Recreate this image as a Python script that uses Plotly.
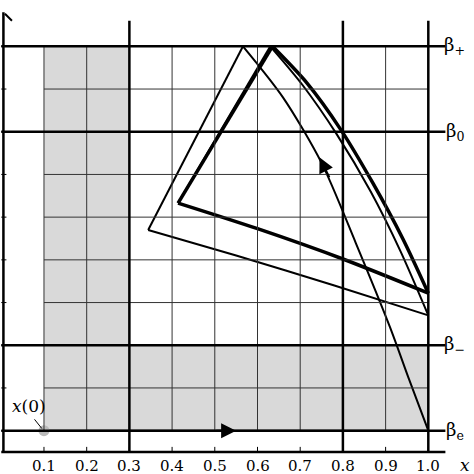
import plotly.graph_objects as go

x_ticks = [0.1,0.2,0.3,0.4,0.5,0.6,0.7,0.8,0.9,1.0]
x_tick_labels = ["0.1","0.2","0.3","0.4","0.5","0.6","0.7","0.8","0.9","1.0"]
y_grid = [0.05,0.15,0.25,0.35,0.45,0.55,0.65,0.75,0.85,0.95]
beta_names = ["β<sub>+</sub>","β<sub>0</sub>","β<sub>−</sub>","β<sub>e</sub>"]
beta_vals = [0.95,0.75,0.25,0.05]
thick_x = [0.3,0.8,1.0]

seg1_x = [0.1,1.0]; seg1_y = [0.05,0.05]
seg2_x = [1.0,0.955,0.91,0.83,0.75,0.66,0.566]
seg2_y = [0.05,0.17,0.293,0.49,0.677,0.83,0.95]
seg3_x = [0.566,0.344]; seg3_y = [0.95,0.52]
seg4_x = [0.344,0.55,0.78,1.0]; seg4_y = [0.52,0.46,0.39,0.32]
seg5_x = [1.0,0.935,0.865,0.785,0.705,0.63]
seg5_y = [0.32,0.47,0.61,0.745,0.86,0.95]
seg6_x = [0.63,0.414]; seg6_y = [0.95,0.583]
cyc_a_x = [0.414,0.60,0.80,1.0]; cyc_a_y = [0.583,0.523,0.452,0.372]
cyc_b_x = [1.0,0.94,0.87,0.795,0.715,0.635]
cyc_b_y = [0.372,0.50,0.63,0.755,0.865,0.95]
cyc_c_x = [0.635,0.414]; cyc_c_y = [0.95,0.583]

fig = go.Figure()
shapes = []
shapes.append(dict(type="rect",x0=0.1,x1=0.3,y0=0.05,y1=0.95,fillcolor="#d9d9d9",line_width=0,layer="below"))
shapes.append(dict(type="rect",x0=0.1,x1=1.0,y0=0.05,y1=0.25,fillcolor="#d9d9d9",line_width=0,layer="below"))
for xv in x_ticks:
    shapes.append(dict(type="line",x0=xv,x1=xv,y0=0.05,y1=0.95,line=dict(color="#333",width=1)))
for yv in y_grid:
    shapes.append(dict(type="line",x0=0.1,x1=1.0,y0=yv,y1=yv,line=dict(color="#333",width=1)))
for xv in thick_x:
    shapes.append(dict(type="line",x0=xv,x1=xv,y0=0,y1=1.01,line=dict(color="black",width=2.5)))
for yv in beta_vals:
    shapes.append(dict(type="line",x0=0,x1=1.04,y0=yv,y1=yv,line=dict(color="black",width=2.5)))
shapes.append(dict(type="line",x0=0.005,x1=0.005,y0=0,y1=1.03,line=dict(color="black",width=2.5)))
shapes.append(dict(type="line",x0=0,x1=1.04,y0=0,y1=0,line=dict(color="black",width=2.5)))
for xv in x_ticks:
    shapes.append(dict(type="line",x0=xv,x1=xv,y0=0,y1=0.012,line=dict(color="black",width=1)))
for yv in y_grid:
    shapes.append(dict(type="line",x0=0,x1=0.012,y0=yv,y1=yv,line=dict(color="black",width=1)))

for sx,sy in [(seg1_x,seg1_y),(seg2_x,seg2_y),(seg3_x,seg3_y),(seg4_x,seg4_y),(seg5_x,seg5_y),(seg6_x,seg6_y)]:
    fig.add_trace(go.Scatter(x=sx,y=sy,mode="lines",line=dict(color="black",width=2,shape="spline",smoothing=0.8),hoverinfo="skip"))
for sx,sy in [(cyc_a_x,cyc_a_y),(cyc_b_x,cyc_b_y),(cyc_c_x,cyc_c_y)]:
    fig.add_trace(go.Scatter(x=sx,y=sy,mode="lines",line=dict(color="black",width=3.5,shape="spline",smoothing=0.8),hoverinfo="skip"))
fig.add_trace(go.Scatter(x=[0.1],y=[0.05],mode="markers",marker=dict(color="#bbbbbb",size=11),hoverinfo="skip"))

anns = []
anns.append(dict(x=0.55,y=0.05,ax=0.50,ay=0.05,xref="x",yref="y",axref="x",ayref="y",showarrow=True,arrowhead=2,arrowsize=1.5,arrowwidth=2,arrowcolor="black",text=""))
anns.append(dict(x=0.745,y=0.69,ax=0.77,ay=0.64,xref="x",yref="y",axref="x",ayref="y",showarrow=True,arrowhead=2,arrowsize=1.5,arrowwidth=2,arrowcolor="black",text=""))
for n,v in zip(beta_names,beta_vals):
    anns.append(dict(x=1.062,y=v,xref="x",yref="y",text=n,showarrow=False,font=dict(size=18,family="DejaVu Serif",color="black")))
for xv,t in zip(x_ticks,x_tick_labels):
    anns.append(dict(x=xv,y=-0.033,xref="x",yref="y",text=t,showarrow=False,font=dict(size=15,family="DejaVu Serif",color="black")))
anns.append(dict(x=1.087,y=-0.03,xref="x",yref="y",text="<i>x</i>",showarrow=False,font=dict(size=17,family="DejaVu Serif",color="black")))
anns.append(dict(x=0.065,y=0.108,xref="x",yref="y",text="<i>x</i>(0)",showarrow=False,font=dict(size=17,family="DejaVu Serif",color="black")))
anns.append(dict(x=0.095,y=0.055,ax=0.075,ay=0.08,xref="x",yref="y",axref="x",ayref="y",showarrow=True,arrowhead=0,arrowwidth=1,arrowcolor="black",text=""))
anns.append(dict(x=0.025,y=1.01,ax=0.005,ay=1.03,xref="x",yref="y",axref="x",ayref="y",showarrow=True,arrowhead=0,arrowwidth=2,arrowcolor="black",text=""))

fig.update_layout(width=474,height=474,margin=dict(l=0,r=0,t=0,b=0),
    plot_bgcolor="white",paper_bgcolor="white",showlegend=False,shapes=shapes,annotations=anns,
    xaxis=dict(range=[-0.003,1.107],visible=False),
    yaxis=dict(range=[-0.0515,1.0585],visible=False))
fig.write_html("out.html", config={"displayModeBar": False}, post_script="document.body.style.margin='0';")
